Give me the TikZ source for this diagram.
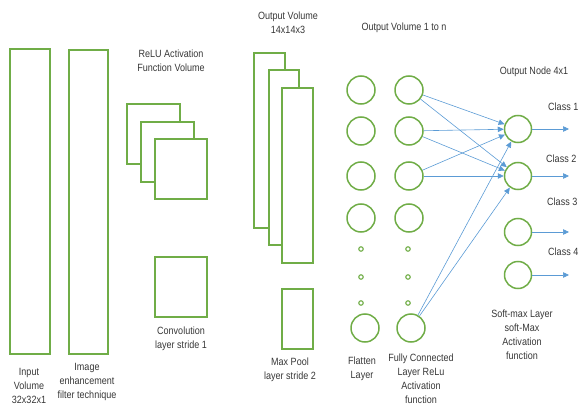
\documentclass[tikz,border=0pt]{standalone}
\usepackage{fontspec}
\setmainfont{Liberation Sans}[FakeStretch=0.86]
\usepackage{tikz}
\usetikzlibrary{arrows.meta}
\definecolor{netgreen}{RGB}{112,173,71}
\definecolor{netblue}{RGB}{91,155,213}
\definecolor{txtgray}{RGB}{55,55,55}
\tikzset{vol/.style={rectangle,draw=netgreen,line width=1.5pt,fill=white,inner sep=0pt}}
\tikzset{unit/.style={circle,draw=netgreen,line width=1.5pt,fill=white,inner sep=0pt,minimum size=27pt}}
\tikzset{dot/.style={circle,draw=netgreen,line width=1.1pt,inner sep=0pt,minimum size=4.5pt}}
\tikzset{lbl/.style={align=center,text=txtgray,inner sep=0pt,font=\fontsize{10.5}{14}\selectfont}}
\tikzset{link/.style={draw=netblue,line width=0.6pt,-{Triangle[length=6pt,width=5.5pt]}}}

\begin{document}
\begin{tikzpicture}[x=1pt,y=-1pt]
\useasboundingbox (0,0) rectangle (580,406);
% input and enhancement volumes
\node[vol,minimum width=40pt,minimum height=305pt] (in) at (30,201.5) {};
\node[vol,minimum width=39pt,minimum height=304pt] (enh) at (88.5,202) {};
% relu volume and convolution
\node[vol,minimum width=53pt,minimum height=60pt] (relu1) at (153.5,134) {};
\node[vol,minimum width=53pt,minimum height=60pt] (relu2) at (167.5,152) {};
\node[vol,minimum width=52pt,minimum height=60pt] (relu3) at (181,169) {};
\node[vol,minimum width=52pt,minimum height=60pt] (conv) at (181,287) {};
% output volume and max pool
\node[vol,minimum width=31pt,minimum height=175pt] (out1) at (269.5,140.5) {};
\node[vol,minimum width=30pt,minimum height=175pt] (out2) at (284,157.5) {};
\node[vol,minimum width=31pt,minimum height=175pt] (out3) at (297.5,175.5) {};
\node[vol,minimum width=31pt,minimum height=60pt] (pool) at (297.5,319) {};
% flatten and fully connected layers
\foreach \i / \y in {1/90,2/131,3/176,4/218} {
	\node[unit,minimum size=28pt] (F\i) at (361,\y) {};
	\node[unit,minimum size=28pt] (H\i) at (409,\y) {};
}
\node[unit,minimum size=28pt] (F5) at (365,328) {};
\node[unit,minimum size=28pt] (H5) at (411,328) {};
\foreach \i / \y in {1/249,2/277,3/303} {
	\node[dot] (Fd\i) at (361,\y) {};
	\node[dot] (Hd\i) at (408,\y) {};
}
% output nodes
\foreach \i / \y in {1/129,2/176,3/232,4/275} {
	\node[unit] (O\i) at (518,\y) {};
	\coordinate (c\i) at (569,\y);
	\draw[link] (O\i) -- (c\i);
}
\foreach \i in {1,2,3,5} {
	\draw[link] (H\i) -- (O1);
	\draw[link] (H\i) -- (O2);
}
% labels
\node[lbl] (tIn) at (29,386) {Input\\Volume\\32x32x1};
\node[lbl] (tEnh) at (87,382) {Image\\enhancement\\filter technique};
\node[lbl] (tRelu) at (171,61) {ReLU Activation\\Function Volume};
\node[lbl] (tConv) at (181,339) {Convolution\\layer stride 1};
\node[lbl] (tOut) at (288,23) {Output Volume\\14x14x3};
\node[lbl] (tPool) at (290,369.5) {Max Pool\\layer stride 2};
\node[lbl] (tOutn) at (404,28) {Output Volume 1 to n};
\node[lbl] (tFlat) at (362,368.5) {Flatten\\Layer};
\node[lbl] (tFc) at (421,379) {Fully Connected\\Layer ReLu\\Activation\\function};
\node[lbl] (tSoft) at (522,335) {Soft-max Layer\\soft-Max\\Activation\\function};
\node[lbl] (tNode) at (534,72) {Output Node 4x1};
\node[lbl,anchor=west] (k1) at (548,107) {Class 1};
\node[lbl,anchor=west] (k2) at (546,159) {Class 2};
\node[lbl,anchor=west] (k3) at (547,202) {Class 3};
\node[lbl,anchor=west] (k4) at (548,252) {Class 4};
\end{tikzpicture}
\end{document}
